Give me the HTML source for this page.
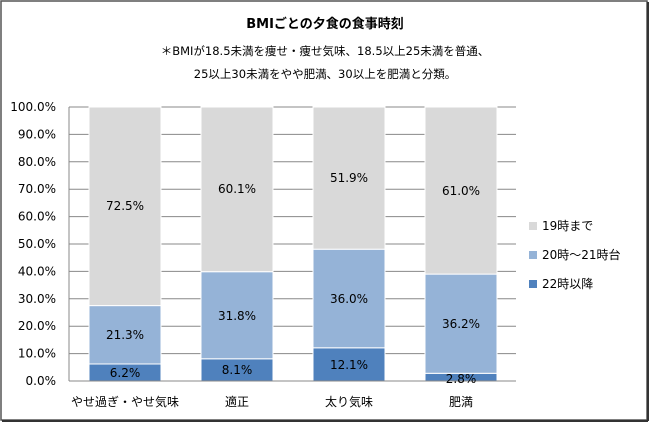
<!DOCTYPE html>
<html><head><meta charset="utf-8"><style>
body{margin:0;width:650px;height:423px;background:#fff;overflow:hidden}
svg{font-family:"DejaVu Sans","Noto Sans CJK JP",sans-serif}
</style></head><body>
<svg width="650" height="423" viewBox="0 0 650 423">
<rect x="1" y="1" width="646" height="419" fill="#fff" stroke="#555" stroke-width="1.5"/>
<line x1="648" y1="2" x2="648" y2="421" stroke="#333" stroke-width="2"/>
<line x1="2" y1="421" x2="648" y2="421" stroke="#333" stroke-width="2"/>
<text x="325" y="28" text-anchor="middle" font-size="13" font-weight="bold" fill="#000">BMIごとの夕食の食事時刻</text>
<text x="325" y="55" text-anchor="middle" font-size="11.5" fill="#000">＊BMIが18.5未満を痩せ・痩せ気味、18.5以上25未満を普通、</text>
<text x="325" y="78" text-anchor="middle" font-size="11.5" fill="#000">25以上30未満をやや肥満、30以上を肥満と分類。</text>
<g stroke="#888" stroke-width="1">
<line x1="69" y1="107" x2="516" y2="107"/><line x1="69" y1="134.4" x2="516" y2="134.4"/><line x1="69" y1="161.8" x2="516" y2="161.8"/><line x1="69" y1="189.2" x2="516" y2="189.2"/><line x1="69" y1="216.6" x2="516" y2="216.6"/><line x1="69" y1="244" x2="516" y2="244"/><line x1="69" y1="271.4" x2="516" y2="271.4"/><line x1="69" y1="298.8" x2="516" y2="298.8"/><line x1="69" y1="326.2" x2="516" y2="326.2"/><line x1="69" y1="353.6" x2="516" y2="353.6"/>
</g>
<g font-size="12" fill="#000" text-anchor="end">
<text x="56" y="111">100.0%</text><text x="56" y="138.4">90.0%</text><text x="56" y="165.8">80.0%</text><text x="56" y="193.2">70.0%</text><text x="56" y="220.6">60.0%</text><text x="56" y="248">50.0%</text><text x="56" y="275.4">40.0%</text><text x="56" y="302.8">30.0%</text><text x="56" y="330.2">20.0%</text><text x="56" y="357.6">10.0%</text><text x="56" y="385">0.0%</text>
</g>
<g stroke="#fff" stroke-width="1">
<rect x="89" y="364" width="72" height="17" fill="#4f81bd"/>
<rect x="89" y="305.6" width="72" height="58.4" fill="#95b3d7"/>
<rect x="89" y="107" width="72" height="198.6" fill="#d9d9d9"/>
<rect x="201" y="358.8" width="72" height="22.2" fill="#4f81bd"/>
<rect x="201" y="271.7" width="72" height="87.1" fill="#95b3d7"/>
<rect x="201" y="107" width="72" height="164.7" fill="#d9d9d9"/>
<rect x="313" y="347.8" width="72" height="33.2" fill="#4f81bd"/>
<rect x="313" y="249.2" width="72" height="98.6" fill="#95b3d7"/>
<rect x="313" y="107" width="72" height="142.2" fill="#d9d9d9"/>
<rect x="425" y="373.3" width="72" height="7.7" fill="#4f81bd"/>
<rect x="425" y="274.1" width="72" height="99.2" fill="#95b3d7"/>
<rect x="425" y="107" width="72" height="167.1" fill="#d9d9d9"/>
</g>
<line x1="69" y1="107" x2="69" y2="381" stroke="#888"/>
<line x1="69" y1="381" x2="516" y2="381" stroke="#888"/>
<g font-size="12" fill="#000" text-anchor="middle">
<text x="125" y="210">72.5%</text><text x="125" y="339">21.3%</text><text x="125" y="377">6.2%</text>
<text x="237" y="193">60.1%</text><text x="237" y="320">31.8%</text><text x="237" y="374">8.1%</text>
<text x="349" y="182">51.9%</text><text x="349" y="303">36.0%</text><text x="349" y="369">12.1%</text>
<text x="461" y="195">61.0%</text><text x="461" y="328">36.2%</text><text x="461" y="383">2.8%</text>
<text x="125" y="406">やせ過ぎ・やせ気味</text><text x="237" y="406">適正</text><text x="349" y="406">太り気味</text><text x="461" y="406">肥満</text>
</g>
<rect x="529" y="222" width="8" height="8" fill="#d9d9d9"/>
<rect x="529" y="251" width="8" height="8" fill="#95b3d7"/>
<rect x="529" y="280" width="8" height="8" fill="#4f81bd"/>
<g font-size="12" fill="#000">
<text x="542" y="230">19時まで</text><text x="542" y="259">20時～21時台</text><text x="542" y="288">22時以降</text>
</g>
</svg>
</body></html>
